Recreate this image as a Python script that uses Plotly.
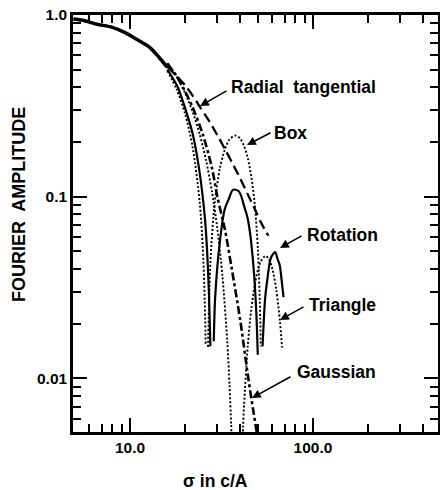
import plotly.graph_objects as go

# ---- data (sigma in c/A, Fourier amplitude) ----
common_x = [4.9, 5.5, 6.6, 8.0, 9.4, 11.0, 12.9, 14.5, 16.0]
common_y = [0.95, 0.935, 0.89, 0.855, 0.80, 0.73, 0.66, 0.58, 0.515]

radial_x = [16, 18, 20, 22, 24.2, 27, 30, 33.1, 36, 40, 44, 48.2, 52, 57]
radial_y = [0.52, 0.46, 0.41, 0.36, 0.31, 0.262, 0.218, 0.182, 0.155, 0.126, 0.103, 0.085, 0.072, 0.061]

box_main_x = [16, 18, 20, 22, 24, 25, 25.6, 25.9]
box_main_y = [0.493, 0.389, 0.286, 0.187, 0.0946, 0.052, 0.0273, 0.0154]
box_lobe_x = [26.7, 27.5, 29, 31, 33, 35, 37.6, 40, 42, 44, 46, 48, 50, 51.5, 51.8]
box_lobe_y = [0.0149, 0.0436, 0.0915, 0.1437, 0.182, 0.207, 0.217, 0.209, 0.190, 0.163, 0.129, 0.0916, 0.0512, 0.0213, 0.015]

rot_main_x = [16, 17.2, 18.3, 20, 21.9, 23.75, 25.6, 26.3, 27.0, 27.5]
rot_main_y = [0.50, 0.446, 0.398, 0.3075, 0.226, 0.1465, 0.0785, 0.0533, 0.0295, 0.015]
rot_lobe1_x = [28.7, 29.2, 31, 32.9, 34.7, 36.5, 38.9, 40.2, 42, 43.8, 45.3, 47.5, 49.0, 49.9]
rot_lobe1_y = [0.016, 0.028, 0.057, 0.085, 0.0975, 0.109, 0.108, 0.103, 0.089, 0.077, 0.063, 0.039, 0.023, 0.0135]
rot_lobe2_x = [53.0, 54.8, 56.5, 58.5, 60.3, 62.1, 64.0, 65.8, 67.5, 69.0]
rot_lobe2_y = [0.015, 0.0278, 0.0361, 0.0452, 0.0481, 0.0495, 0.0455, 0.042, 0.0342, 0.028]

tri_main_x = [16, 18, 20, 22, 24, 26, 28, 30, 32, 34, 35, 35.7, 36.2]
tri_main_y = [0.544, 0.457, 0.372, 0.293, 0.2215, 0.1595, 0.1077, 0.0668, 0.0365, 0.016, 0.0091, 0.0056, 0.0036]
tri_lobe_x = [40.8, 41.5, 42, 44, 46, 48, 50, 52, 54.9, 57, 60, 63, 66, 67.7]
tri_lobe_y = [0.0034, 0.00544, 0.00712, 0.0151, 0.024, 0.0324, 0.0396, 0.0443, 0.0472, 0.0459, 0.040, 0.0308, 0.0205, 0.0148]

gauss_x = [16, 18, 20, 22, 25, 28, 30, 33, 36, 40, 44, 47, 49.5, 51]
gauss_y = [0.54, 0.46, 0.38, 0.31, 0.22, 0.145, 0.10, 0.066, 0.040, 0.021, 0.0105, 0.0068, 0.0049, 0.0040]

x_tick_vals = [10, 100]
x_tick_text = ["10.0", "100.0"]
x_minor_vals = [6, 7, 8, 9, 20, 30, 40, 50, 60, 70, 80, 90, 200, 300, 400]
y_tick_vals = [0.01, 0.1, 1.0]
y_tick_text = ["0.01", "0.1", "1.0"]
y_minor_vals = [0.006, 0.007, 0.008, 0.009, 0.02, 0.03, 0.04, 0.05, 0.06, 0.07, 0.08, 0.09,
                0.2, 0.3, 0.4, 0.5, 0.6, 0.7, 0.8, 0.9]

labels = ["Radial  tangential", "Box", "Rotation", "Triangle", "Gaussian"]

FONT = "Liberation Sans"
fig = go.Figure()


def add(x, y, dash="solid", width=2.0):
    fig.add_trace(go.Scatter(
        x=x, y=y, mode="lines", showlegend=False, hoverinfo="skip",
        line=dict(color="black", width=width, dash=dash, shape="spline", smoothing=0.8)))


DOT = "2px,2px"
add(common_x, common_y, "solid", 3.5)
add(radial_x, radial_y, "10px,5px", 2.3)
add(box_main_x, box_main_y, DOT, 1.9)
add(box_lobe_x, box_lobe_y, DOT, 1.9)
add(rot_main_x, rot_main_y, "solid", 2.2)
add(rot_lobe1_x, rot_lobe1_y, "solid", 2.2)
add(rot_lobe2_x, rot_lobe2_y, "solid", 2.2)
add(tri_main_x, tri_main_y, DOT, 1.9)
add(tri_lobe_x, tri_lobe_y, DOT, 1.9)
add(gauss_x, gauss_y, "8px,3px,3px,3px", 2.6)

L, R, T, B = 73, 438, 15, 432
PW, PH = R - L, B - T


def px(xp):
    return (xp - L) / PW


def py(yp):
    return (B - yp) / PH


# label text positions (left edge, vertical centre) and arrows (tip, tail) in pixels
text_pos = [(229, 87), (272, 133), (305, 235), (307, 305), (295, 372)]
arrows = [((200, 106), (228, 90)), ((247, 145), (272, 132)), ((280, 248), (303, 235)),
          ((280, 320), (305, 306)), ((252, 398), (292, 376))]

for lab, (tx, ty) in zip(labels, text_pos):
    fig.add_annotation(x=px(tx), y=py(ty), xref="paper", yref="paper", text=lab,
                       showarrow=False, xanchor="left", yanchor="middle",
                       font=dict(family=FONT, size=17.5, color="black", weight="bold"))
for (tip, tail) in arrows:
    fig.add_annotation(x=px(tip[0]), y=py(tip[1]), xref="paper", yref="paper", text="",
                       showarrow=True, ax=tail[0] - tip[0], ay=tail[1] - tip[1],
                       arrowhead=2, arrowsize=1.1, arrowwidth=1.6, arrowcolor="black", standoff=0)

fig.add_annotation(x=px(19), y=py(205), xref="paper", yref="paper", text="FOURIER  AMPLITUDE",
                   textangle=-90, showarrow=False, xanchor="center", yanchor="middle",
                   font=dict(family=FONT, size=18, color="black", weight="bold"))
fig.add_annotation(x=px(215), y=py(481), xref="paper", yref="paper", text="σ in c/A",
                   showarrow=False, xanchor="center", yanchor="middle",
                   font=dict(family=FONT, size=17.5, color="black", weight="bold"))

axis_common = dict(type="log", ticks="inside", tickcolor="black", tickwidth=2,
                   showline=True, linecolor="black", linewidth=2.5, mirror="ticks",
                   showgrid=False, zeroline=False, automargin=False,
                   tickfont=dict(family=FONT, size=15.5, color="black", weight="bold"))

fig.update_layout(
    width=440, height=490,
    margin=dict(l=L, r=440 - R, t=T, b=490 - B, pad=0),
    paper_bgcolor="white", plot_bgcolor="white",
    xaxis=dict(range=[0.6885, 2.683], tickmode="array", tickvals=x_tick_vals, ticktext=x_tick_text,
               ticklen=14,
               minor=dict(tickmode="array", tickvals=x_minor_vals, ticks="inside", ticklen=8,
                          tickwidth=1.5, tickcolor="black", showgrid=False),
               **axis_common),
    yaxis=dict(range=[-2.295, 0], tickmode="array", tickvals=y_tick_vals, ticktext=y_tick_text,
               ticklen=14,
               minor=dict(tickmode="array", tickvals=y_minor_vals, ticks="inside", ticklen=8,
                          tickwidth=1.5, tickcolor="black", showgrid=False),
               **axis_common),
)

fig.write_html("out.html", post_script="document.body.style.margin='0';",
               config={"displayModeBar": False})
